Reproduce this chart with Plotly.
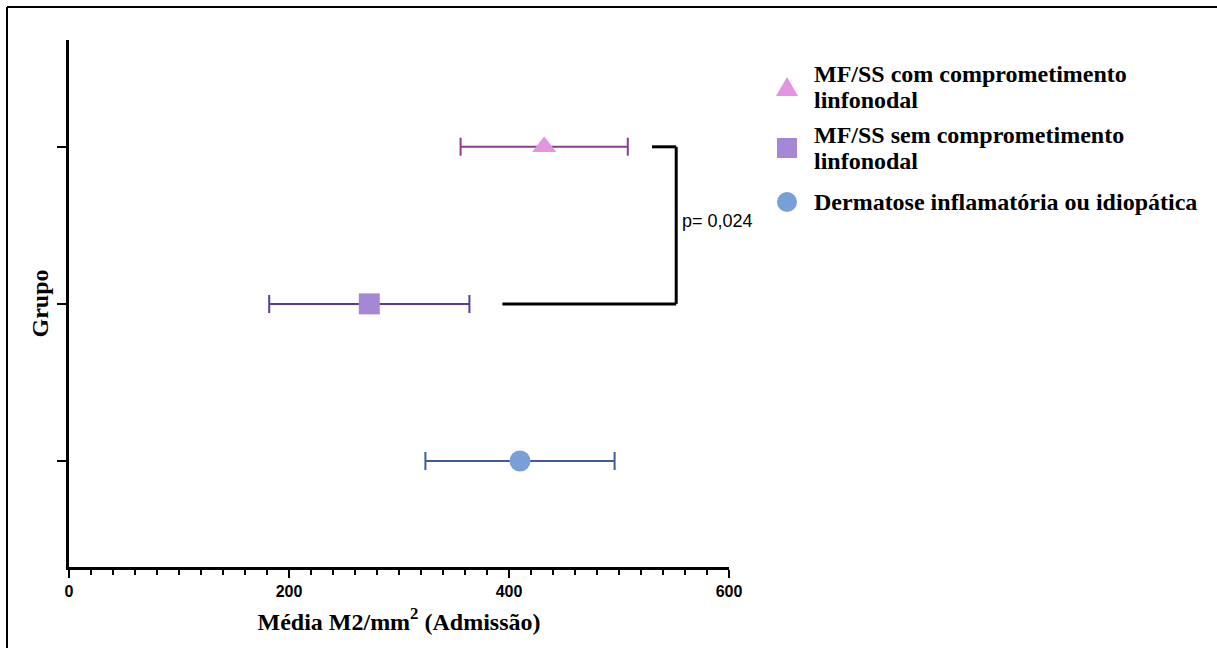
import plotly.graph_objects as go

# Group means and error (half-width) of M2 macrophage density at admission
groups = [
    "MF/SS com comprometimento linfonodal",
    "MF/SS sem comprometimento linfonodal",
    "Dermatose inflamatória ou idiopática",
]
legend_lines = [
    ["MF/SS com comprometimento", "linfonodal"],
    ["MF/SS sem comprometimento", "linfonodal"],
    ["Dermatose inflamatória ou idiopática"],
]
group_pos = [3, 2, 1]
means = [432, 273, 410]
errors = [76, 91, 86]

marker_symbols = ["triangle-up", "square", "circle"]
marker_colors = ["#E394E3", "#A587D5", "#799FD8"]
bar_colors = ["#8E3C92", "#5B3C9C", "#3F5C9C"]

p_label = "p= 0,024"
x_ticks = [0, 200, 400, 600]

W, H = 1217, 648
L, R, T, B = 69, 488, 40, 81

serif = "Times New Roman, Liberation Serif, serif"
sans = "Arial, Liberation Sans, sans-serif"

pw, ph = W - L - R, H - T - B
def px_x(p):
    return (p - L) / pw
def px_y(p):
    return 1 - (p - T) / ph

fig = go.Figure()
for name, y, m, e, sym, mc, bc in zip(groups, group_pos, means, errors,
                                      marker_symbols, marker_colors, bar_colors):
    fig.add_trace(go.Scatter(
        x=[m], y=[y], name=name, mode="markers", showlegend=False,
        marker=dict(symbol=sym, size=21, color=mc, line=dict(width=0)),
        error_x=dict(type="data", array=[e], color=bc, thickness=2, width=9),
    ))

# significance bracket between the two MF/SS groups
br_top_start, br_bottom_start, br_x = 530, 394, 552
bracket = dict(type="line", xref="x", yref="y", line=dict(color="black", width=3))
fig.add_shape(x0=br_top_start, x1=br_x, y0=3, y1=3, **bracket)
fig.add_shape(x0=br_x, x1=br_x, y0=3, y1=2, **bracket)
fig.add_shape(x0=br_bottom_start, x1=br_x, y0=2, y1=2, **bracket)
fig.add_annotation(x=br_x + 3, y=2.53, xref="x", yref="y", text=p_label,
                   showarrow=False, xanchor="left", yanchor="middle",
                   font=dict(family=sans, size=18, color="black"))

# outer frame (left and top edges)
frame = dict(type="line", xref="paper", yref="paper", line=dict(color="black", width=2))
fig.add_shape(x0=px_x(7), x1=px_x(7), y0=px_y(7), y1=px_y(660), **frame)
fig.add_shape(x0=px_x(7), x1=px_x(1230), y0=px_y(7), y1=px_y(7), **frame)

# legend: symbol keys and wrapped labels
key = dict(xref="paper", yref="paper", line=dict(width=0))
kx, ky, ks = 787, [87, 148, 202], 10
fig.add_shape(type="path", fillcolor=marker_colors[0], **key,
              path=(f"M {px_x(kx)},{px_y(ky[0] - ks)} "
                    f"L {px_x(kx - ks - 1)},{px_y(ky[0] + ks - 1)} "
                    f"L {px_x(kx + ks + 1)},{px_y(ky[0] + ks - 1)} Z"))
fig.add_shape(type="rect", fillcolor=marker_colors[1], **key,
              x0=px_x(kx - ks), x1=px_x(kx + ks), y0=px_y(ky[1] - ks), y1=px_y(ky[1] + ks))
fig.add_shape(type="circle", fillcolor=marker_colors[2], **key,
              x0=px_x(kx - ks), x1=px_x(kx + ks), y0=px_y(ky[2] - ks), y1=px_y(ky[2] + ks))

line_gap = 26
for lines, yc in zip(legend_lines, ky):
    n = len(lines)
    for i, txt in enumerate(lines):
        yy = yc + (i - (n - 1) / 2) * line_gap
        fig.add_annotation(x=px_x(812), y=px_y(yy), xref="paper", yref="paper",
                           text=txt, showarrow=False, xanchor="left", yanchor="middle",
                           font=dict(family=serif, size=24, color="black", weight="bold"))

fig.update_layout(
    width=W, height=H,
    margin=dict(l=L, r=R, t=T, b=B),
    plot_bgcolor="white", paper_bgcolor="white",
    showlegend=False,
    xaxis=dict(
        range=[0, 600], tickvals=x_ticks, ticktext=[str(v) for v in x_ticks],
        showline=True, linecolor="black", linewidth=3,
        ticks="outside", ticklen=8, tickwidth=2, tickcolor="black",
        minor=dict(dtick=20, ticks="outside", ticklen=5, tickwidth=2, tickcolor="black"),
        showgrid=False, zeroline=False, automargin=False,
        tickfont=dict(family=sans, size=16, color="black", weight="bold"),
        title=dict(text="Média M2/mm<sup>2</sup> (Admissão)", standoff=14,
                   font=dict(family=serif, size=24, color="black", weight="bold")),
    ),
    yaxis=dict(
        range=[0.325, 3.68], tickvals=group_pos, showticklabels=False,
        showline=True, linecolor="black", linewidth=3,
        ticks="outside", ticklen=9, tickwidth=2, tickcolor="black",
        showgrid=False, zeroline=False, automargin=False,
        title=dict(text="Grupo", standoff=2,
                   font=dict(family=serif, size=24, color="black", weight="bold")),
    ),
)

fig.write_html("out.html")
